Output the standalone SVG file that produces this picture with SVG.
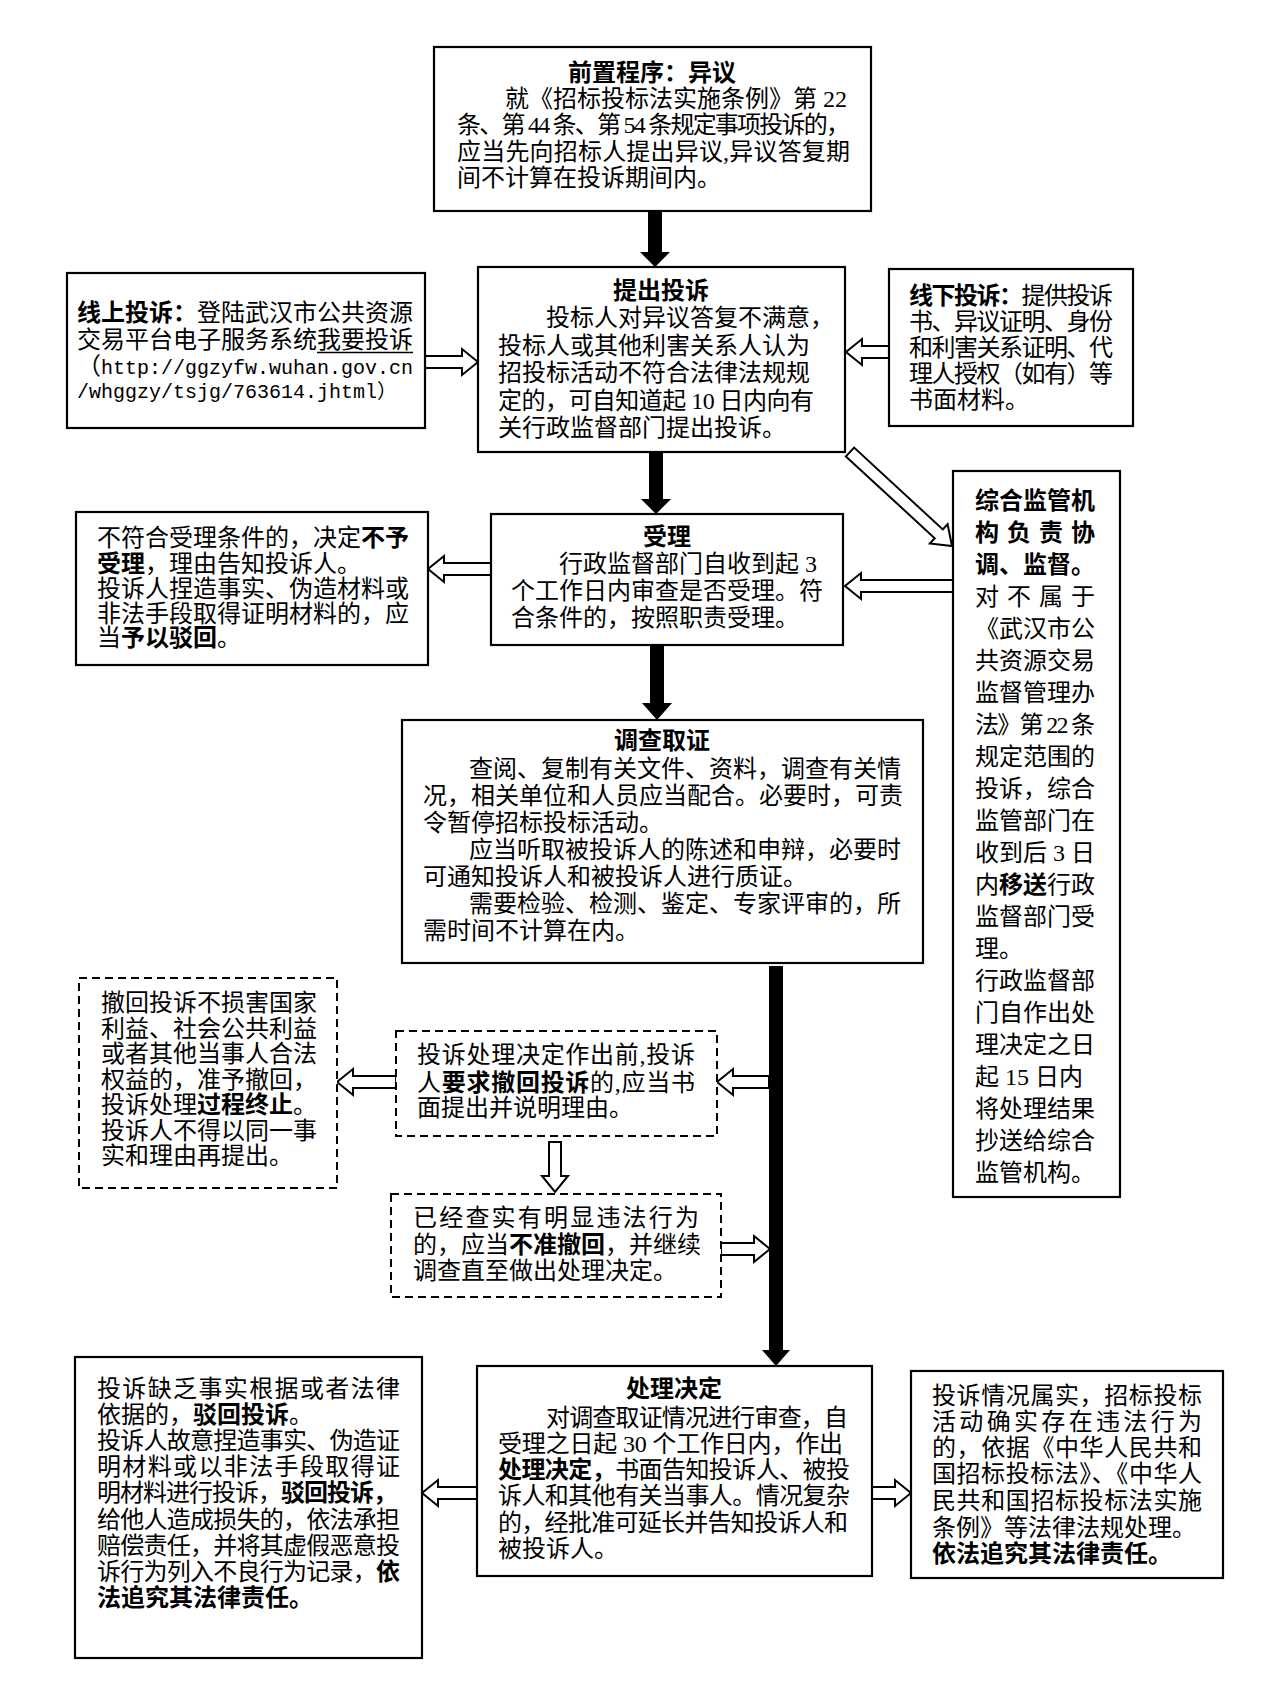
<svg xmlns="http://www.w3.org/2000/svg" width="1280" height="1683" viewBox="0 0 1280 1683">
<style>
text{font-family:"Liberation Serif","Noto Sans CJK SC",serif;font-size:24px;fill:#000}
.b{font-family:"Noto Sans CJK SC",sans-serif;font-weight:700}
.ttl{font-family:"Noto Sans CJK SC",sans-serif;font-weight:700;text-anchor:middle}
.mono{font-family:"Liberation Mono","Noto Sans CJK SC",monospace;font-size:20px}
.box{fill:#fff;stroke:#000;stroke-width:2.2}
.dbox{fill:#fff;stroke:#000;stroke-width:2;stroke-dasharray:8 5}
.ha{fill:#fff;stroke:#000;stroke-width:2;stroke-linejoin:miter}
.sa{fill:#000}
</style>
<rect width="1280" height="1683" fill="#fff"/>

<g id="connectors">
<polygon class="sa" points="648,211 662,211 662,252 670,252 655,267 640,252 648,252"/>
<polygon class="sa" points="649,452 663,452 663,499 671,499 656,514 641,499 649,499"/>
<polygon class="sa" points="650,645 664,645 664,703 672,703 657,720 642,703 650,703"/>
<polygon class="sa" points="769,966 783,966 783,1350 790,1350 776,1366 762,1350 769,1350"/>
<polygon class="ha" points="425,356 462,356 462,349 478,362 462,375 462,368 425,368"/>
<polygon class="ha" points="889,346 862,346 862,339 846,352 862,365 862,358 889,358"/>
<polygon class="ha" points="491,563 444,563 444,556 428,569 444,582 444,575 491,575"/>
<polygon class="ha" points="953,580 861,580 861,573 845,586 861,599 861,592 953,592"/>
<polygon class="ha" points="845.9,456.4 934.7,538.2 929.9,543.4 952,546 947.6,524.2 942.8,529.4 854.1,447.6"/>
<polygon class="ha" points="769,1076 733,1076 733,1069 717,1082 733,1095 733,1088 769,1088"/>
<polygon class="ha" points="396,1076 353,1076 353,1069 337,1082 353,1095 353,1088 396,1088"/>
<polygon class="ha" points="549,1142 549,1176 542,1176 555,1192 568,1176 561,1176 561,1142"/>
<polygon class="ha" points="721,1243 754,1243 754,1236 770,1249 754,1262 754,1255 721,1255"/>
<polygon class="ha" points="477,1487 438,1487 438,1480 422,1493 438,1506 438,1499 477,1499"/>
<polygon class="ha" points="872,1487 895,1487 895,1480 911,1493 895,1506 895,1499 872,1499"/>
</g>

<g id="n-yiyi">
<rect class="box" x="434" y="47" width="437" height="164"/>
<text class="ttl" x="652" y="81">前置程序：异议</text>
<text x="505" y="107">就《招标投标法实施条例》第 22</text>
<text x="457" y="133" textLength="393">条、第 44 条、第 54 条规定事项投诉的，</text>
<text x="457" y="160" textLength="393">应当先向招标人提出异议,异议答复期</text>
<text x="457" y="186">间不计算在投诉期间内。</text>
</g>

<g id="n-tousu">
<rect class="box" x="478" y="267" width="367" height="185"/>
<text class="ttl" x="661" y="299">提出投诉</text>
<text x="546" y="326">投标人对异议答复不满意，</text>
<text x="498" y="354">投标人或其他利害关系人认为</text>
<text x="498" y="381">招投标活动不符合法律法规规</text>
<text x="498" y="409" textLength="316">定的，可自知道起 10 日内向有</text>
<text x="498" y="436">关行政监督部门提出投诉。</text>
</g>

<g id="n-online">
<rect class="box" x="67" y="273" width="358" height="155"/>
<text x="77" y="321"><tspan class="b">线上投诉：</tspan>登陆武汉市公共资源</text>
<text x="77" y="348">交易平台电子服务系统我要投诉</text>
<line x1="317" y1="352.5" x2="413" y2="352.5" stroke="#000" stroke-width="1.5"/>
<text x="77" y="374"><tspan>（</tspan><tspan class="mono">http://ggzyfw.wuhan.gov.cn</tspan></text>
<text class="mono" x="77" y="398">/whggzy/tsjg/763614.jhtml）</text>
</g>

<g id="n-offline">
<rect class="box" x="889" y="269" width="244" height="157"/>
<text x="909" y="304" textLength="204"><tspan class="b">线下投诉：</tspan>提供投诉</text>
<text x="909" y="330" textLength="204">书、异议证明、身份</text>
<text x="909" y="356" textLength="204">和利害关系证明、代</text>
<text x="909" y="382" textLength="204">理人授权（如有）等</text>
<text x="909" y="408">书面材料。</text>
</g>

<g id="n-buyu">
<rect class="box" x="76" y="512" width="352" height="153"/>
<text x="97" y="546">不符合受理条件的，决定<tspan class="b">不予</tspan></text>
<text x="97" y="572"><tspan class="b">受理</tspan>，理由告知投诉人。</text>
<text x="97" y="597">投诉人捏造事实、伪造材料或</text>
<text x="97" y="622">非法手段取得证明材料的，应</text>
<text x="97" y="646">当<tspan class="b">予以驳回</tspan>。</text>
</g>

<g id="n-shouli">
<rect class="box" x="491" y="514" width="352" height="131"/>
<text class="ttl" x="667" y="545">受理</text>
<text x="559" y="572">行政监督部门自收到起 3</text>
<text x="511" y="599">个工作日内审查是否受理。符</text>
<text x="511" y="626">合条件的，按照职责受理。</text>
</g>

<g id="n-zonghe">
<rect class="box" x="953" y="471" width="167" height="726"/>
<text class="b" x="975" y="509">综合监管机</text>
<text class="b" x="975" y="541" textLength="120">构负责协</text>
<text class="b" x="975" y="573">调、监督。</text>
<text x="975" y="605" textLength="120">对不属于</text>
<text x="975" y="637">《武汉市公</text>
<text x="975" y="669">共资源交易</text>
<text x="975" y="701">监督管理办</text>
<text x="975" y="733" textLength="120">法》第 22 条</text>
<text x="975" y="765">规定范围的</text>
<text x="975" y="797">投诉，综合</text>
<text x="975" y="829">监管部门在</text>
<text x="975" y="861">收到后 3 日</text>
<text x="975" y="893">内<tspan class="b">移送</tspan>行政</text>
<text x="975" y="925">监督部门受</text>
<text x="975" y="957">理。</text>
<text x="975" y="989">行政监督部</text>
<text x="975" y="1021">门自作出处</text>
<text x="975" y="1053">理决定之日</text>
<text x="975" y="1085">起 15 日内</text>
<text x="975" y="1117">将处理结果</text>
<text x="975" y="1149">抄送给综合</text>
<text x="975" y="1181">监管机构。</text>
</g>

<g id="n-diaocha">
<rect class="box" x="402" y="720" width="521" height="243"/>
<text class="ttl" x="662" y="749">调查取证</text>
<text x="469" y="777">查阅、复制有关文件、资料，调查有关情</text>
<text x="423" y="804">况，相关单位和人员应当配合。必要时，可责</text>
<text x="423" y="831">令暂停招标投标活动。</text>
<text x="469" y="858">应当听取被投诉人的陈述和申辩，必要时</text>
<text x="423" y="885">可通知投诉人和被投诉人进行质证。</text>
<text x="469" y="912">需要检验、检测、鉴定、专家评审的，所</text>
<text x="423" y="939">需时间不计算在内。</text>
</g>

<g id="n-chehui-req">
<rect class="dbox" x="396" y="1031" width="321" height="105"/>
<text x="417" y="1063" textLength="278">投诉处理决定作出前,投诉</text>
<text x="417" y="1091" textLength="278">人<tspan class="b">要求撤回投诉</tspan>的,应当书</text>
<text x="417" y="1116">面提出并说明理由。</text>
</g>

<g id="n-chehui-ok">
<rect class="dbox" x="79" y="978" width="258" height="210"/>
<text x="101" y="1011">撤回投诉不损害国家</text>
<text x="101" y="1037">利益、社会公共利益</text>
<text x="101" y="1062">或者其他当事人合法</text>
<text x="101" y="1088">权益的，准予撤回，</text>
<text x="101" y="1113">投诉处理<tspan class="b">过程终止</tspan>。</text>
<text x="101" y="1139">投诉人不得以同一事</text>
<text x="101" y="1164">实和理由再提出。</text>
</g>

<g id="n-buzhun">
<rect class="dbox" x="391" y="1194" width="330" height="103"/>
<text x="413" y="1226" textLength="286">已经查实有明显违法行为</text>
<text x="413" y="1253">的，应当<tspan class="b">不准撤回</tspan>，并继续</text>
<text x="413" y="1279">调查直至做出处理决定。</text>
</g>

<g id="n-chuli">
<rect class="box" x="477" y="1366" width="395" height="210"/>
<text class="ttl" x="674" y="1397">处理决定</text>
<text x="546" y="1426" textLength="302">对调查取证情况进行审查，自</text>
<text x="498" y="1452" textLength="345">受理之日起 30 个工作日内，作出</text>
<text x="498" y="1478" textLength="352"><tspan class="b">处理决定，</tspan>书面告知投诉人、被投</text>
<text x="498" y="1504" textLength="352">诉人和其他有关当事人。情况复杂</text>
<text x="498" y="1531" textLength="350">的，经批准可延长并告知投诉人和</text>
<text x="498" y="1557">被投诉人。</text>
</g>

<g id="n-bohui">
<rect class="box" x="75" y="1357" width="347" height="301"/>
<text x="97" y="1397" textLength="303">投诉缺乏事实根据或者法律</text>
<text x="97" y="1423">依据的，<tspan class="b">驳回投诉</tspan>。</text>
<text x="97" y="1449" textLength="303">投诉人故意捏造事实、伪造证</text>
<text x="97" y="1475" textLength="303">明材料或以非法手段取得证</text>
<text x="97" y="1501" textLength="300">明材料进行投诉，<tspan class="b">驳回投诉，</tspan></text>
<text x="97" y="1528" textLength="303">给他人造成损失的，依法承担</text>
<text x="97" y="1554" textLength="303">赔偿责任，并将其虚假恶意投</text>
<text x="97" y="1580" textLength="303">诉行为列入不良行为记录，<tspan class="b">依</tspan></text>
<text x="97" y="1606"><tspan class="b">法追究其法律责任。</tspan></text>
</g>

<g id="n-shushi">
<rect class="box" x="911" y="1371" width="312" height="207"/>
<text x="932" y="1404" textLength="270">投诉情况属实，招标投标</text>
<text x="932" y="1430" textLength="270">活动确实存在违法行为</text>
<text x="932" y="1456" textLength="270">的，依据《中华人民共和</text>
<text x="932" y="1482" textLength="270">国招标投标法》、《中华人</text>
<text x="932" y="1509" textLength="270">民共和国招标投标法实施</text>
<text x="932" y="1536">条例》等法律法规处理。</text>
<text class="b" x="932" y="1562">依法追究其法律责任。</text>
</g>
</svg>
